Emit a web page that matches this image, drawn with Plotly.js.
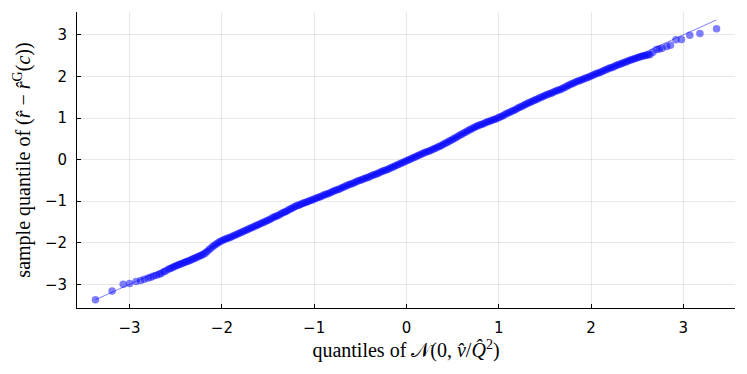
<!DOCTYPE html>
<html>
<head>
<meta charset="utf-8">
<script src="https://cdn.plot.ly/plotly-3.0.1.min.js"></script>
<style>
  html, body { margin: 0; padding: 0; background: #fff; }
  #qq { width: 747px; height: 374px; }
</style>
</head>
<body>
<div id="qq"></div>
<script>
// theoretical quantiles (x) and sample quantiles (y)
const lowerX = [-3.37, -3.19, -3.07, -3.00, -2.93, -2.88, -2.84, -2.80, -2.77, -2.74, -2.71, -2.68, -2.66,
  -2.63, -2.61, -2.58, -2.56, -2.54, -2.52, -2.50, -2.48, -2.46, -2.44, -2.42, -2.40, -2.38, -2.36, -2.34,
  -2.32, -2.30, -2.28, -2.26, -2.24, -2.22, -2.20, -2.18, -2.16, -2.14, -2.12, -2.10, -2.08, -2.06, -2.04,
  -2.02, -2.00];
const lowerY = [-3.37, -3.16, -3.00, -2.98, -2.93, -2.91, -2.88, -2.85, -2.83, -2.80, -2.78, -2.76, -2.74,
  -2.70, -2.68, -2.64, -2.62, -2.60, -2.58, -2.56, -2.54, -2.52, -2.51, -2.49, -2.47, -2.45, -2.44, -2.42,
  -2.40, -2.38, -2.36, -2.34, -2.32, -2.30, -2.28, -2.25, -2.21, -2.17, -2.13, -2.09, -2.06, -2.03, -2.00,
  -1.97, -1.95];

const midX = [-1.98, -1.96, -1.94, -1.92, -1.90, -1.88, -1.86, -1.84, -1.82, -1.80, -1.78, -1.76, -1.74,
  -1.72, -1.70, -1.68, -1.66, -1.64, -1.62, -1.60, -1.58, -1.56, -1.54, -1.52, -1.50, -1.48, -1.46, -1.44,
  -1.42, -1.40, -1.38, -1.36, -1.34, -1.32, -1.30, -1.28, -1.26, -1.24, -1.22, -1.20, -1.18, -1.16, -1.14,
  -1.12, -1.10, -1.08, -1.06, -1.04, -1.02, -1.00, -0.98, -0.96, -0.94, -0.92, -0.90, -0.88, -0.86, -0.84,
  -0.82, -0.80, -0.78, -0.76, -0.74, -0.72, -0.70, -0.68, -0.66, -0.64, -0.62, -0.60, -0.58, -0.56, -0.54,
  -0.52, -0.50, -0.48, -0.46, -0.44, -0.42, -0.40, -0.38, -0.36, -0.34, -0.32, -0.30, -0.28, -0.26, -0.24,
  -0.22, -0.20, -0.18, -0.16, -0.14, -0.12, -0.10, -0.08, -0.06, -0.04, -0.02, 0.00, 0.02, 0.04, 0.06,
  0.08, 0.10, 0.12, 0.14, 0.16, 0.18, 0.20, 0.22, 0.24, 0.26, 0.28, 0.30, 0.32, 0.34, 0.36, 0.38, 0.40,
  0.42, 0.44, 0.46, 0.48, 0.50, 0.52, 0.54, 0.56, 0.58, 0.60, 0.62, 0.64, 0.66, 0.68, 0.70, 0.72, 0.74,
  0.76, 0.78, 0.80, 0.82, 0.84, 0.86, 0.88, 0.90, 0.92, 0.94, 0.96, 0.98, 1.00, 1.02, 1.04, 1.06, 1.08,
  1.10, 1.12, 1.14, 1.16, 1.18, 1.20, 1.22, 1.24, 1.26, 1.28, 1.30, 1.32, 1.34, 1.36, 1.38, 1.40, 1.42,
  1.44, 1.46, 1.48, 1.50, 1.52, 1.54, 1.56, 1.58, 1.60, 1.62, 1.64, 1.66, 1.68, 1.70, 1.72, 1.74, 1.76,
  1.78, 1.80, 1.82, 1.84, 1.86, 1.88, 1.90, 1.92, 1.94, 1.96, 1.98, 2.00, 2.02, 2.04, 2.06, 2.08, 2.10,
  2.12, 2.14, 2.16, 2.18, 2.20, 2.22, 2.24, 2.26, 2.28, 2.30, 2.32, 2.34, 2.36, 2.38, 2.40, 2.42, 2.44,
  2.46, 2.48, 2.50, 2.52, 2.54, 2.56, 2.58, 2.60, 2.62, 2.64];
const midY = [-1.93, -1.91, -1.89, -1.88, -1.86, -1.84, -1.82, -1.80, -1.78, -1.76, -1.74, -1.72, -1.70,
  -1.68, -1.66, -1.64, -1.62, -1.60, -1.58, -1.56, -1.54, -1.52, -1.50, -1.48, -1.46, -1.44, -1.41, -1.39,
  -1.37, -1.35, -1.33, -1.30, -1.28, -1.26, -1.24, -1.21, -1.19, -1.17, -1.14, -1.12, -1.10, -1.09, -1.07,
  -1.05, -1.03, -1.02, -1.00, -0.98, -0.97, -0.95, -0.93, -0.91, -0.90, -0.88, -0.86, -0.84, -0.83, -0.81,
  -0.79, -0.77, -0.75, -0.73, -0.72, -0.70, -0.68, -0.66, -0.64, -0.62, -0.60, -0.59, -0.57, -0.55, -0.53,
  -0.51, -0.50, -0.48, -0.46, -0.44, -0.43, -0.41, -0.39, -0.37, -0.36, -0.34, -0.32, -0.30, -0.28, -0.26,
  -0.25, -0.23, -0.21, -0.19, -0.17, -0.15, -0.13, -0.11, -0.09, -0.07, -0.05, -0.03, -0.01, 0.01, 0.03,
  0.05, 0.07, 0.09, 0.11, 0.13, 0.15, 0.17, 0.19, 0.20, 0.22, 0.24, 0.26, 0.28, 0.30, 0.32, 0.34, 0.37,
  0.39, 0.41, 0.44, 0.46, 0.49, 0.51, 0.54, 0.56, 0.59, 0.61, 0.64, 0.66, 0.69, 0.71, 0.73, 0.76, 0.78,
  0.80, 0.82, 0.84, 0.85, 0.87, 0.89, 0.91, 0.92, 0.94, 0.96, 0.97, 0.99, 1.01, 1.03, 1.05, 1.07, 1.10,
  1.12, 1.14, 1.16, 1.18, 1.20, 1.23, 1.25, 1.27, 1.29, 1.32, 1.34, 1.36, 1.38, 1.40, 1.42, 1.44, 1.46,
  1.48, 1.50, 1.52, 1.54, 1.56, 1.58, 1.59, 1.61, 1.63, 1.65, 1.67, 1.68, 1.70, 1.72, 1.74, 1.77, 1.79,
  1.81, 1.83, 1.85, 1.87, 1.89, 1.90, 1.92, 1.94, 1.96, 1.97, 1.99, 2.01, 2.03, 2.05, 2.07, 2.08, 2.10,
  2.12, 2.14, 2.16, 2.18, 2.20, 2.21, 2.23, 2.25, 2.27, 2.29, 2.30, 2.32, 2.34, 2.35, 2.37, 2.39, 2.40,
  2.42, 2.43, 2.45, 2.46, 2.48, 2.49, 2.50, 2.51, 2.52, 2.53];

const upperX = [2.67, 2.71, 2.74, 2.77, 2.82, 2.86, 2.92, 2.98, 3.07, 3.18, 3.36];
const upperY = [2.58, 2.65, 2.66, 2.68, 2.72, 2.75, 2.88, 2.89, 2.99, 3.03, 3.15];

// reference line y = x across the data range
const refX = [-3.37, 3.36];
const refY = [-3.37, 3.36];

const tickVals = [-3, -2, -1, 0, 1, 2, 3];

const qx = lowerX.concat(midX, upperX);
const qy = lowerY.concat(midY, upperY);

const points = {
  x: qx,
  y: qy,
  type: "scatter",
  mode: "markers",
  marker: { color: "rgb(0,0,255)", size: 7.5, opacity: 0.5, line: { width: 0 } },
  hoverinfo: "skip",
};

const refLine = {
  x: refX,
  y: refY,
  type: "scatter",
  mode: "lines",
  line: { color: "rgba(0,0,255,0.5)", width: 1 },
  hoverinfo: "skip",
};

const axisBase = {
  tickvals: tickVals,
  ticks: "inside",
  ticklen: 4,
  tickcolor: "#000",
  showline: true,
  linecolor: "#000",
  linewidth: 1,
  mirror: false,
  showgrid: true,
  gridcolor: "rgba(0,0,0,0.09)",
  gridwidth: 1,
  zeroline: false,
  tickfont: { family: "DejaVu Sans", size: 15, color: "#000" },
  ticklabelstandoff: 6,
};

const layout = {
  width: 747,
  height: 374,
  margin: { l: 77, r: 12, t: 12, b: 66 },
  paper_bgcolor: "#fff",
  plot_bgcolor: "#fff",
  showlegend: false,
  xaxis: Object.assign({}, axisBase, {
    range: [-3.57, 3.56],
    title: {
      text: "quantiles of 𝒩(0, <i>v̂</i>/<i>Q̂</i><sup>2</sup>)",
      font: { family: "Liberation Serif", size: 20, color: "#000" },
      standoff: 6,
    },
  }),
  yaxis: Object.assign({}, axisBase, {
    range: [-3.57, 3.55],
    title: {
      text: "sample quantile of (<i>r̂</i> − <i>r̂</i><sup>G</sup>(<i>c</i>))",
      font: { family: "Liberation Serif", size: 20, color: "#000" },
      standoff: 8,
    },
  }),
};

Plotly.newPlot("qq", [refLine, points], layout, { staticPlot: true });
</script>
</body>
</html>
